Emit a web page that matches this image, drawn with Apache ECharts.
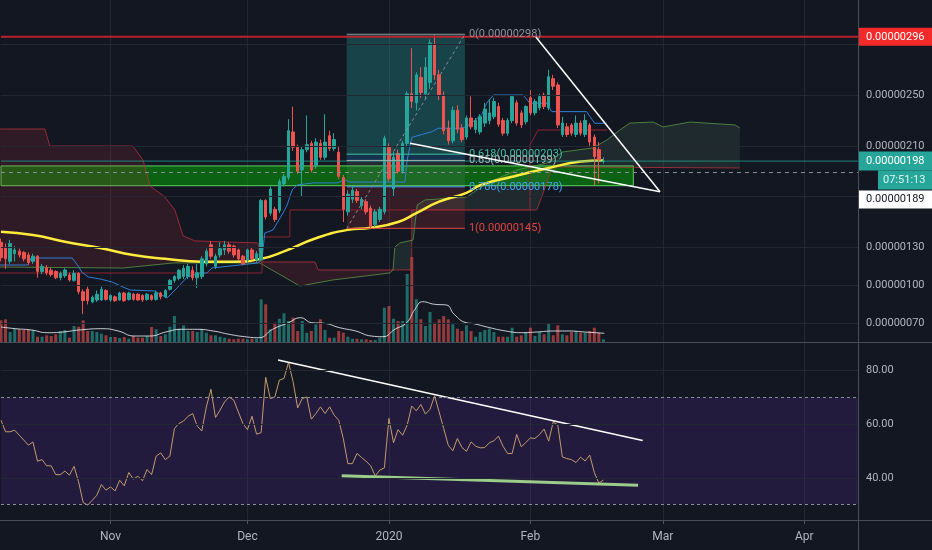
<!DOCTYPE html>
<html><head><meta charset="utf-8">
<script src="https://cdn.jsdelivr.net/npm/echarts@6/dist/echarts.min.js"></script>
<style>html,body{margin:0;padding:0;background:#131722;}#c{width:932px;height:550px;}</style>
</head><body><div id="c"></div>
<script>
// ---------- categories / ticks ----------
const N_DAYS = 189;
const dates = [];
for (let i = 0; i < N_DAYS; i++) {
  const d = new Date(2019, 9, 8 + i);
  dates.push(d.getFullYear() + '-' + String(d.getMonth() + 1).padStart(2, '0') + '-' + String(d.getDate()).padStart(2, '0'));
}
const monthStarts = ['2019-11-01', '2019-12-01', '2020-01-01', '2020-02-01', '2020-03-01', '2020-04-01'];
const monthLabels = ['Nov', 'Dec', '2020', 'Feb', 'Mar', 'Apr'];
const priceTicks = [250, 210, 130, 100, 70];           // satoshi (x1e-8)
const priceGrid = [290, 250, 210, 170, 130, 100, 70];
const rsiTicks = [80, 60, 40];

// ---------- candles (satoshi) ----------
const opens = [134,130,119,125,127,126,124,119,123,111,114,112,111,106,107.6,108.3,104,109.5,95,97,
87,88.5,88.5,96,88.5,91,88.5,94,89,93,93,92,89,92,89,94,91,97,104,105.6,
107,107,112,106,107,117,132,115,124,128,132,131,128,123,120,128,120,120,167,157,
160,159,180,185,221,209,191,207,212,194,212,201,218,208,205,185,158,168,174,163,
166,161,148,152,158,209,176,204,190,212,251,244,264,251,260,290,266,250,224,214,
238,224,217,232,223,221,228,230,233,241,230,220,230,244,236,229,248,236,240,250,
240,263,258,219,225,226.5,219,228,219,226.5,217,207,197.6];
const closes = [122,121,133,128,124,121,118,123,111,115,110,108.5,106,109.6,112.2,104.3,109.6,95,88,88,
90.6,93,97,89,92,88,94,88,94,89,88.5,88.5,93,89,94,91,96,104,107,112,
113.5,115,106,110,121,127,123,123,129,132,127,124,121,117,128,121,125,167,154,176,
152,182,186,222,209,190,207,211,191,213,201,213,208,215,186,160,172,175,167,168,
158,147,158,160,216,184,201,190,212,251,245,266,252,272,291,266,250,222,214,238,
223,215,232,225,230,233,239,236,245,227,220,230,249,228,226.5,241,236,245,249,241,
264.5,257,226.5,228,219,220,228,220,230,213,201.5,199,198];
const lows = [119,113,117,119,122,119,116,117,106,109,108,107,105,104,106,103,103,93,77.5,85,
86,87,88,88,87,87,88,87,88,88,88,87,88,88,88,89,90,96,102,104,
105,105,104,98,105,115,121,113,122,124,125,122,120,116,118,120,118,119,152,155,
150,157,178,183,206,188,170,205,189,192,199,199,206,206,184,150,155,165,165,160,
156,145,146,150,156,182,170,188,188,210,240,238,248,247,255,262,246,219,211,212,
220,213,215,223,220,219,225,227,231,225,218,218,228,226,224,227,234,234,238,239,
238,254,224,217,217,218,217,218,217,209,179,180.5,196];
const highs = [137,133,136,131,129,127,126,125,124,117,116,114,112,111,113.5,110,112,110.5,97,99,
92,96,99,97,93,92,95,95,95,94,94,93,94,93,96,95,97,105,108,113,
116,117,115,117,123,129,135,125,134,135,134,132,129,124,129,130,127,168,168,178,
162,184,188,231,241,211,209,234,214,216,215,235,222,220,210,187,175,178,176,170,
168,163,160,162,218,212,205,207,214,253,287,268,272,280,294,297.5,270,253,230,241,
242,227,234,249,232,235,244,247,248,244,232,232,250,246,238,242,254,247,251,252,
270,266,260,233,228,228,234,230,235,228,219,213,201];

// ---------- volume (relative units) ----------
const volumes = [21.7,22.7,10,13.3,12.7,12,12,12,5.3,5.3,6.7,6,7.7,11,12,4.3,16,15.3,21.7,11,
11,10,8.3,6.7,5,5,4,5,3.3,6,4.3,4.3,6,15,12.7,6,7.7,15.3,26,13.3,
16.7,11,11,10,12.7,9.3,6.7,6.7,5.3,4.3,3.3,2.7,3.3,3.3,2.7,3.3,3.3,42.7,37.7,12.7,
19.3,23.3,28.7,21,24.3,11,21,9.3,11,17.7,22.7,12,4.3,4.3,11,9.3,5.3,3.3,3.3,2.7,
2.7,2,2,4.3,34.3,36,23.3,21,21,68,85,42.7,22.7,16,30,19.3,22.7,26,22.7,17.7,
13.3,11,16.7,11,5.3,10,12,13.3,10,5.3,5.3,5.3,14.3,5.3,6.7,10,14.3,6,10,7.7,
18.7,6.7,16.7,7.7,6.7,10,11,9.3,9.3,11,14.3,9.3,2.7];
const volumeMa = [[0,15],[3.2,13.3],[6.7,12],[10.1,9.3],[13.6,10],[17.1,12],[22.3,13.3],[25.7,11],[29.2,6],[32.7,6],
[36.1,10],[39.6,12.7],[43,12.7],[46.5,11],[50,7.7],[53.4,5.3],[56.5,4.3],[59.5,12.7],[63,19.3],[65.6,24.3],
[68.1,19.3],[70.8,18.7],[74.2,14.3],[77.7,11],[81.1,6],[83.7,5.3],[86.3,12.7],[88.9,19.3],[90.7,32.7],[92.4,40.3],
[95,37.7],[97.6,37],[99.3,27.7],[101.9,19.3],[103.6,18.3],[107.1,14.3],[110.6,11],[114,9.3],[117.5,10],[121,11],
[124.4,11],[127.9,10],[132.2,8.7]];

// ---------- RSI ----------
const rsi = [61.5,57.2,57.2,57.8,55.9,54.1,52.2,53.4,46.2,46.8,
44.5,44.5,41.2,41.2,42.5,41.0,44.3,38.5,30.8,29.8,
31.6,33.5,37.5,35.4,36.6,35.1,39.1,37.0,42.0,39.5,
40.6,38.9,43.1,41.2,48.1,49.3,46.8,48.1,58.4,60.3,
61.2,63.0,64.0,59.3,57.5,66.5,73.1,62.5,65.3,68.4,
70.2,69.0,64.6,60.3,58.0,63.0,56.3,56.9,77.5,69.6,
70.2,76.5,77.1,83.1,75.9,66.1,69.6,70.2,61.9,64.0,
66.5,64.0,66.5,63.4,61.5,54.7,45.3,45.3,49.1,47.6,
46.2,44.5,40.7,42.9,43.7,62.2,53.1,58.0,55.9,59.7,
66.8,65.0,67.4,63.8,65.6,70.6,64.6,58.4,52.2,50.1,
54.7,51.3,49.9,53.4,51.8,51.2,51.3,53.1,53.8,55.6,
51.8,49.1,49.1,56.2,51.6,53.2,54.9,54.7,56.2,58.2,
53.7,60.9,59.7,47.8,47.2,46.8,45.7,47.7,46.3,48.5,
42.0,38.0,39.2];

// ---------- overlays: [dayIndex, price] ----------
const maLine = [[0,142.4],[7,139.8],[14,134.5],[22,129.3],[29,124],[36,121],[44,118.7],[51,118.7],[57,121],[62,126.8],
[69,137.2],[76,143.8],[81,145.4],[87,150],[91,157],[96,166],[102,173],[105,179],[112,185.7],[120,192.5],[127,197.6],[132,198.5]];
const tenkan = [[-0.2,116.1],[5.9,116.1],[6.6,121.6],[15.6,121.6],[16.9,115.3],[17.7,110.6],[19.1,106.7],[21.7,105.1],[24.3,102.7],
[26.7,98.8],[28.3,96.4],[33.7,95.6],[36.4,90.1],[38.6,98.0],[40.8,106.7],[43.6,109.8],[45.1,109.8],[46.2,113.7],[56.3,117.7],
[57.2,121.6],[57.8,141.3],[59.6,143.7],[60.5,149.2],[61.8,157.1],[62.7,163.4],[63.8,175.3],[64.9,179.2],[68.4,180.8],
[73.6,180.8],[75.4,183.1],[76.5,181.5],[88.5,181.5],[89.0,198.9],[90.0,216.7],[94.4,221.2],[95.8,223.9],[100.9,223.9],
[102.0,225.1],[103.9,230.4],[105.3,234.4],[106.4,243.6],[107.9,250.1],[114.4,250.1],[115.9,243.6],[119.6,243.6],
[120.7,237.0],[128.3,237.0],[130.1,227.8],[132.7,227.8]];
const kijun = [[-0.2,109.8],[57.2,109.8],[57.2,138.2],[63.3,138.2],[63.3,159.5],[115.9,159.5],[115.9,210.7],[117.7,222.5],[132.8,222.5]];
const redCloudTop = [[-0.2,223.3],[9.6,223.3],[10.7,209.9],[28.9,209.9],[31.1,198.9],[32.7,178.4],[35.9,169.7],[38.1,159.5],
[39.9,139.0],[42.5,135.1],[56.3,133.5],[57.0,118.5],[68.8,118.5],[69.5,112.2],[85.9,112.2]];
const redCloudBottom = [[-0.2,114.5],[26.7,113.7],[37.7,117.7],[56.7,117.7],[65.5,99.5],[72.7,104.3],[85.2,109.8],[85.9,112.2]];
const greenCloudTop = [[85.9,112.2],[86.3,130.3],[87.4,133.5],[90.3,135.8],[91.2,163.4],[92.9,167.4],[102.1,169.7],[106.5,180.8],
[113.1,191.0],[119.6,196.5],[123.1,205.2],[129.7,208.4],[132.8,214.7],[135.6,222.5],[137.8,228.0],[142.9,228.8],[145.1,224.9],
[151.0,228.8],[160.8,226.5],[161.9,224.1]];
const greenCloudBottom = [[85.9,112.2],[90.0,112.2],[90.0,159.5],[117.4,159.5],[118.8,172.9],[120.3,188.7],[121.8,193.4],[161.9,192.6]];

// fibonacci retracement
const fibHigh = 298, fibLow = 145, fibStart = 75.75, fibEnd = 101.65;
const fibRatios = [0, 0.618, 0.65, 0.786, 1];
// horizontal levels / zones
const resistance = 296, lastPrice = 198, crossPrice = 189;
const supportZone = [178.6, 194.2], supportZoneEnd = 138.55;
const countdown = '07:51:13';
// trend lines
const trendDown = [[117.2,295.9],[144.4,173.9]];
const trendUp = [[89.6,212.0],[144.4,173.9]];
const rsiTrendHigh = [[60.7,84.0],[140.6,53.9]];
const rsiTrendLow = [[74.65,40.8],[139.6,37.2]];

// ---------- styling ----------
const BG = '#131722', GRID = '#232732', TXT = '#b2b5be';
const UP = '#26a69a', DOWN = '#ef5350';
const FONT = 'Roboto';
const fmtPrice = v => (v / 1e8).toFixed(8);
const monthIdx = new Set(monthStarts.map(d => dates.indexOf(d)));
const isMonth = (i) => monthIdx.has(i);

const chart = echarts.init(document.getElementById('c'), null, {renderer: 'canvas'});

function line(data, color, width, opts) {
  return Object.assign({
    type: 'line', xAxisIndex: 1, yAxisIndex: 0, data, symbol: 'none', silent: true,
    lineStyle: {color, width}, z: 3, animation: false
  }, opts || {});
}
function poly(top, bottom, fill) {
  return {
    type: 'custom', xAxisIndex: 1, yAxisIndex: 0, silent: true, z: 1, data: [[0, 100]],
    renderItem: (params, api) => {
      const pts = top.concat(bottom.slice().reverse()).map(p => api.coord(p));
      return {type: 'polygon', shape: {points: pts}, style: {fill}};
    }
  };
}

const candleData = opens.map((o, i) => [o, closes[i], lows[i], highs[i]]);
const volData = volumes.map((v, i) => ({value: v, itemStyle: {color: closes[i] >= opens[i] ? 'rgba(38,166,154,0.6)' : 'rgba(239,83,80,0.6)'}}));

const fibPrice = r => fibHigh - r * (fibHigh - fibLow);
const fibColors = ['#8f929c', '#3fbf9f', '#9fb3b0', '#42a5f5', '#e04444'];
const fibZoneColors = ['rgba(38,166,154,0.32)', 'rgba(33,150,243,0.22)', 'rgba(130,150,150,0.16)', 'rgba(242,54,69,0.16)'];
const fibZones = [];
for (let k = 0; k < fibRatios.length - 1; k++) {
  fibZones.push([{coord: [fibStart, fibPrice(fibRatios[k])], itemStyle: {color: fibZoneColors[k]}}, {coord: [fibEnd, fibPrice(fibRatios[k + 1])]}]);
}
const fibSeries = fibRatios.map((r, k) => line([[fibStart, fibPrice(r)], [fibEnd, fibPrice(r)]], fibColors[k], 1, {
  z: 6,
  endLabel: {show: true, formatter: r + '(' + fmtPrice(fibPrice(r)) + ')', color: fibColors[k], fontSize: 11, fontFamily: FONT, distance: 4}
}));

const spanA = redCloudBottom.concat(greenCloudTop.slice(1));
const spanB = redCloudTop.concat(greenCloudBottom.slice(1));

const option = {
  backgroundColor: BG,
  animation: false,
  grid: [
    {left: 1, right: 73, top: 0, height: 342},
    {left: 1, right: 73, top: 343, height: 177}
  ],
  xAxis: [
    {type: 'category', gridIndex: 0, data: dates, boundaryGap: false,
      axisLine: {show: false}, axisTick: {show: false}, axisLabel: {show: false},
      splitLine: {show: true, interval: isMonth, lineStyle: {color: GRID}}},
    {type: 'value', gridIndex: 0, min: 0, max: N_DAYS - 1, show: false},
    {type: 'category', gridIndex: 1, data: dates, boundaryGap: false,
      axisLine: {show: false},
      axisTick: {show: true, interval: isMonth, length: 4, lineStyle: {color: '#50535e'}},
      axisLabel: {show: true, interval: isMonth, formatter: v => monthLabels[monthStarts.indexOf(v)] || '', color: TXT, fontSize: 12, fontFamily: FONT, margin: 11},
      splitLine: {show: true, interval: isMonth, lineStyle: {color: GRID}}},
    {type: 'value', gridIndex: 1, min: 0, max: N_DAYS - 1, show: false}
  ],
  yAxis: [
    {type: 'value', gridIndex: 0, position: 'right', min: 55.4, max: 325, scale: true,
      axisLine: {show: false}, splitLine: {show: false},
      axisTick: {show: true, customValues: priceTicks, length: 4, lineStyle: {color: '#787b86'}},
      axisLabel: {customValues: priceTicks, formatter: fmtPrice, color: TXT, fontSize: 11, fontFamily: FONT, margin: 7}},
    {type: 'value', gridIndex: 0, min: 0, max: 342, show: false},
    {type: 'value', gridIndex: 1, position: 'right', min: 24.25, max: 90.35,
      axisLine: {show: false}, splitLine: {show: false},
      axisTick: {show: true, customValues: rsiTicks, length: 4, lineStyle: {color: '#787b86'}},
      axisLabel: {customValues: rsiTicks, formatter: v => v.toFixed(2), color: TXT, fontSize: 11, fontFamily: FONT, margin: 7}}
  ],
  series: [
    // price grid lines
    line([], GRID, 1, {z: 0, markLine: {silent: true, symbol: 'none', label: {show: false},
      lineStyle: {color: GRID, width: 1, type: 'solid'}, data: priceGrid.map(v => ({yAxis: v}))}}),
    // ichimoku cloud fills
    poly(redCloudTop, redCloudBottom, 'rgba(190,45,60,0.17)'),
    poly(greenCloudTop, greenCloudBottom, 'rgba(110,170,120,0.13)'),
    line(spanB, 'rgba(190,50,60,0.75)', 1, {z: 2}),
    line(spanA, 'rgba(90,150,70,0.8)', 1, {z: 2}),
    line(kijun, '#8e2430', 1, {z: 2}),
    line(tenkan, '#2f7fd6', 1, {z: 2}),
    // volume
    {type: 'bar', xAxisIndex: 0, yAxisIndex: 1, data: volData, barWidth: 3, silent: true, z: 2},
    line(volumeMa, 'rgba(235,235,240,0.85)', 1, {yAxisIndex: 1, smooth: true, z: 2}),
    // moving average
    line(maLine, '#ffeb3b', 2.5, {smooth: true, z: 3}),
    // candles
    {type: 'candlestick', xAxisIndex: 0, yAxisIndex: 0, data: candleData, barWidth: 3, silent: true, z: 4,
      itemStyle: {color: UP, color0: DOWN, borderColor: UP, borderColor0: DOWN, borderWidth: 1}},
    // horizontal levels
    line([[0, resistance], [N_DAYS - 1, resistance]], '#b8232c', 2, {z: 5}),
    line([[0, lastPrice], [N_DAYS - 1, lastPrice]], 'rgba(38,166,154,0.75)', 1, {z: 5}),
    line([[0, crossPrice], [N_DAYS - 1, crossPrice]], '#8a8d96', 1, {z: 5, lineStyle: {color: '#8a8d96', width: 1, type: [4, 4]}}),
    // support zone and fib zones
    line([], 'none', 0, {z: 5, markArea: {silent: true,
      itemStyle: {color: 'rgba(0,190,0,0.45)', borderColor: '#5fcf5f', borderWidth: 1},
      data: [[{coord: [-1, supportZone[1]]}, {coord: [supportZoneEnd, supportZone[0]]}]]}}),
    line([], 'none', 0, {z: 5, markArea: {silent: true, data: fibZones}}),
    line([[fibStart, fibLow], [fibEnd, fibHigh]], '#8a8d96', 1, {z: 6, lineStyle: {color: '#8a8d96', width: 1, type: [3, 3]}}),
    ...fibSeries,
    // trend lines
    line(trendDown, '#ffffff', 1.5, {z: 7}),
    line(trendUp, '#ffffff', 1.5, {z: 7}),
    // RSI pane
    line([], 'none', 0, {xAxisIndex: 3, yAxisIndex: 2, z: 0,
      markArea: {silent: true, itemStyle: {color: 'rgba(110,50,200,0.17)'}, data: [[{yAxis: 30}, {yAxis: 70}]]},
      markLine: {silent: true, symbol: 'none', label: {show: false}, data: [
        {yAxis: 80, lineStyle: {color: GRID, type: 'solid', width: 1}},
        {yAxis: 60, lineStyle: {color: GRID, type: 'solid', width: 1}},
        {yAxis: 40, lineStyle: {color: GRID, type: 'solid', width: 1}},
        {yAxis: 70, lineStyle: {color: '#8a8d99', type: [3, 3], width: 1}},
        {yAxis: 30, lineStyle: {color: '#8a8d99', type: [3, 3], width: 1}}
      ]}}),
    {type: 'line', xAxisIndex: 2, yAxisIndex: 2, data: rsi, symbol: 'none', silent: true, z: 3,
      lineStyle: {color: '#c49a6c', width: 1}},
    line(rsiTrendHigh, '#ffffff', 1.5, {xAxisIndex: 3, yAxisIndex: 2, z: 4}),
    line(rsiTrendLow, '#9ccc8a', 3, {xAxisIndex: 3, yAxisIndex: 2, z: 4})
  ]
};
chart.setOption(option);

// axis badges and pane separators
const W = chart.getWidth(), H = chart.getHeight();
const axX = W - 73;
const py = v => chart.convertToPixel({yAxisIndex: 0}, v);
const yR = py(resistance), yL = py(lastPrice);
const badge = (x, y, w, h, fill, text, color, tx) => [
  {type: 'rect', shape: {x, y, width: w, height: h}, style: {fill}, z: 100},
  {type: 'text', x: tx, y: y + h / 2, style: {text, fill: color, font: '11px ' + FONT, verticalAlign: 'middle', align: 'left'}, z: 101}
];
chart.setOption({graphic: [
  {type: 'line', shape: {x1: 0, y1: 342.5, x2: W, y2: 342.5}, style: {stroke: '#4a4d57', lineWidth: 1}, z: 99},
  {type: 'line', shape: {x1: 0, y1: 520.5, x2: W, y2: 520.5}, style: {stroke: '#4a4d57', lineWidth: 1}, z: 99},
  {type: 'line', shape: {x1: axX - 0.5, y1: 0, x2: axX - 0.5, y2: H}, style: {stroke: '#4a4d57', lineWidth: 1}, z: 99},
  ...badge(axX, yR - 9, W - axX, 18, '#f42a2a', fmtPrice(resistance), '#ffffff', axX + 7),
  ...badge(axX, yL - 9.5, W - axX, 19, UP, fmtPrice(lastPrice), '#ffffff', axX + 7),
  ...badge(axX + 19, yL + 9.5, W - axX - 19, 19, UP, countdown, '#dff5f2', axX + 24),
  ...badge(axX, yL + 29.5, W - axX, 18, '#ffffff', fmtPrice(crossPrice), '#131722', axX + 7)
]});
</script>
</body></html>
